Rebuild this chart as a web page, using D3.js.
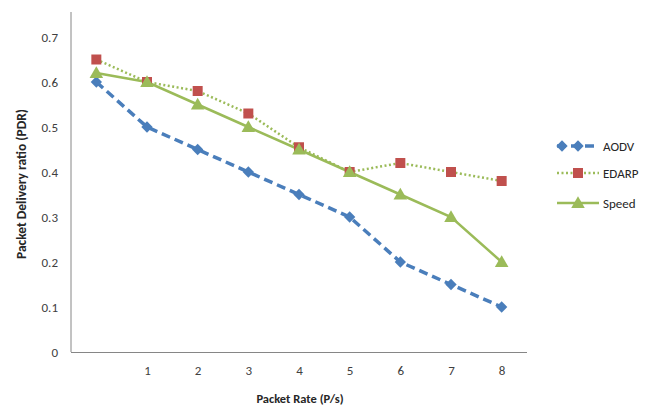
<!DOCTYPE html>
<html><head><meta charset="utf-8">
<script src="https://cdn.jsdelivr.net/npm/d3@7"></script>
<style>body{margin:0;background:#fff}svg{display:block}text{font-family:Carlito,Lato,"Liberation Sans",sans-serif}</style>
</head><body><svg id="c" width="655" height="407"></svg>
<script>
const categories = ["0","1","2","3","4","5","6","7","8"];
const xTickLabels = ["","1","2","3","4","5","6","7","8"];
const yTicks = [0,0.1,0.2,0.3,0.4,0.5,0.6,0.7];
const aodv  = [0.60,0.50,0.45,0.40,0.35,0.30,0.20,0.15,0.10];
const edarp = [0.65,0.60,0.58,0.53,0.455,0.40,0.42,0.40,0.38];
const speed = [0.62,0.60,0.55,0.50,0.45,0.40,0.35,0.30,0.20];
const seriesNames = ["AODV","EDARP","Speed"];

const series = [
  {name:seriesNames[0], values:aodv,  color:"#4a7ebb", dash:"9,5", width:3.5, marker:"diamond"},
  {name:seriesNames[1], values:edarp, color:"#c0504d", dash:"2,2.5", width:2.5, marker:"square", lineColor:"#9bbb59"},
  {name:seriesNames[2], values:speed, color:"#9bbb59", dash:null, width:2.5, marker:"triangle"}
];

const svg = d3.select("#c");
const x = d3.scalePoint().domain(categories).range([71,527]).padding(0.5);
const y = d3.scaleLinear().domain([0,0.7]).range([352,37]);

svg.append("line").attr("x1",71).attr("x2",71).attr("y1",12).attr("y2",352).attr("stroke","#868686").attr("stroke-width",1);
svg.append("line").attr("x1",71).attr("x2",527).attr("y1",352.5).attr("y2",352.5).attr("stroke","#868686").attr("stroke-width",1);

const yAxis = d3.axisLeft(y).tickValues(yTicks).tickSize(0).tickPadding(13).tickFormat(d=>d===0?"0":d3.format(".1f")(d));
const gy = svg.append("g").attr("transform","translate(71,0)").call(yAxis);
gy.select(".domain").remove();
gy.selectAll("text").attr("font-size",13).attr("fill","#404040").style("font-family",'Carlito,Lato,"Liberation Sans",sans-serif');

const xAxis = d3.axisBottom(x).tickSize(0).tickPadding(14).tickFormat((d,i)=>xTickLabels[i]);
const gx = svg.append("g").attr("transform","translate(0,352)").call(xAxis);
gx.select(".domain").remove();
gx.selectAll("text").attr("font-size",13).attr("fill","#404040").style("font-family",'Carlito,Lato,"Liberation Sans",sans-serif');

svg.append("text").attr("x",300).attr("y",403).attr("text-anchor","middle").attr("font-size",12.5).attr("font-weight","bold").attr("fill","#262626").text("Packet Rate (P/s)");
svg.append("text").attr("transform","translate(26,184) rotate(-90)").attr("text-anchor","middle").attr("font-size",13.5).attr("font-weight","bold").attr("fill","#262626").text("Packet Delivery ratio (PDR)");

const sym = {diamond:d3.symbol().type(d3.symbolSquare).size(64),
             square:d3.symbol().type(d3.symbolSquare).size(100),
             triangle:d3.symbol().type(d3.symbolTriangle).size(80)};
const rot = m => m==="diamond" ? " rotate(45)" : "";

const line = d3.line().x((d,i)=>x(categories[i])).y(d=>y(d));
series.forEach(s=>{
  svg.append("path").datum(s.values).attr("d",line).attr("fill","none")
    .attr("stroke",s.lineColor||s.color).attr("stroke-width",s.width)
    .attr("stroke-dasharray",s.dash);
});
series.forEach(s=>{
  svg.selectAll(null).data(s.values).enter().append("path")
    .attr("d",sym[s.marker]).attr("fill",s.color)
    .attr("transform",(d,i)=>`translate(${x(categories[i])},${y(d)+(s.marker==="triangle"?1:0)})${rot(s.marker)}`);
});

const legY = [146,173,203];
series.forEach((s,i)=>{
  const g = svg.append("g").attr("transform",`translate(0,${legY[i]})`);
  g.append("line").attr("x1",557).attr("x2",599).attr("y1",0).attr("y2",0)
    .attr("stroke",s.lineColor||s.color).attr("stroke-width",s.width).attr("stroke-dasharray",s.dash);
  if(s.marker==="diamond"){
    g.append("path").attr("d",sym.diamond).attr("fill",s.color).attr("transform","translate(562,0) rotate(45)");
    g.append("path").attr("d",sym.diamond).attr("fill",s.color).attr("transform","translate(578,0) rotate(45)");
  } else {
    g.append("path").attr("d",sym[s.marker]).attr("fill",s.color).attr("transform",`translate(578,${s.marker==="triangle"?1:0})`);
  }
  g.append("text").attr("x",603).attr("y",5).attr("font-size",13).attr("fill","#262626").text(s.name);
});
</script></body></html>
